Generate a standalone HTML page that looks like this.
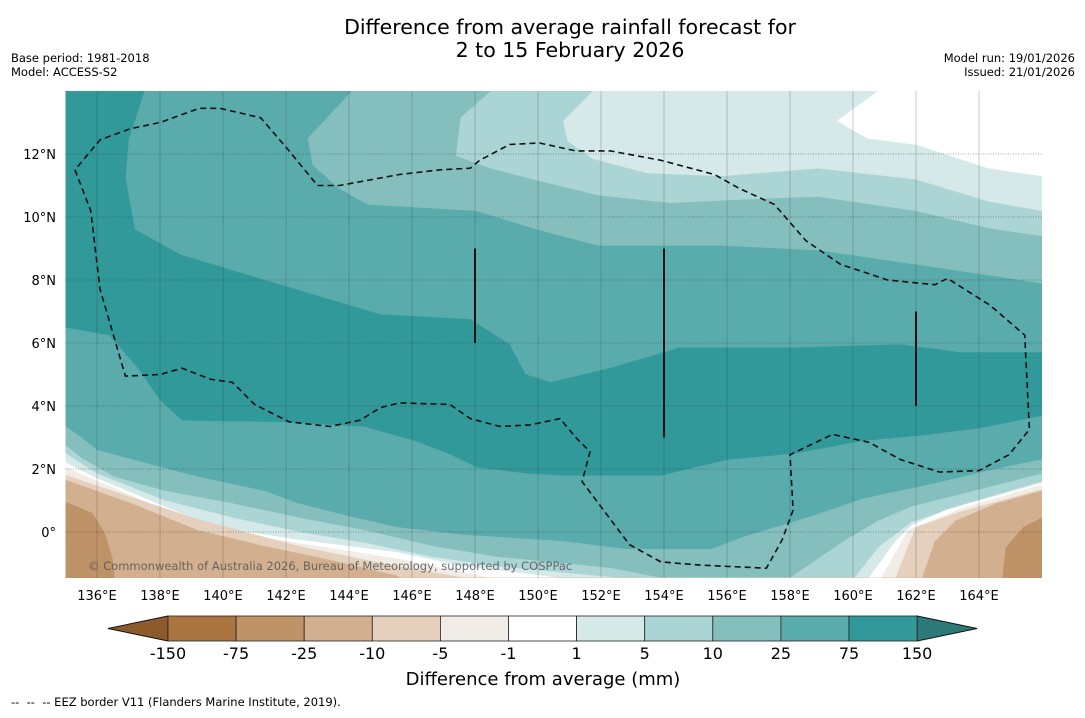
<!DOCTYPE html>
<html><head><meta charset="utf-8"><style>
body{margin:0;background:#fff;font-family:"Liberation Sans","DejaVu Sans",sans-serif}
svg text{font-family:"DejaVu Sans","Liberation Sans",sans-serif}
</style></head><body>
<svg id="s" width="1085" height="713" viewBox="0 0 1085 713" xmlns="http://www.w3.org/2000/svg">
<text x="570" y="34" font-size="20.5" text-anchor="middle">Difference from average rainfall forecast for</text>
<text x="570" y="57" font-size="20.5" text-anchor="middle">2 to 15 February 2026</text>
<text x="11" y="62" font-size="11.5">Base period: 1981-2018</text>
<text x="11" y="76" font-size="11.5">Model: ACCESS-S2</text>
<text x="1075" y="62" font-size="11.5" text-anchor="end">Model run: 19/01/2026</text>
<text x="1075" y="76" font-size="11.5" text-anchor="end">Issued: 21/01/2026</text>
<defs><clipPath id="mc"><rect x="65.5" y="91" width="976.5" height="487"/></clipPath></defs>
<g id="map" clip-path="url(#mc)"></g>
<g id="ov"></g>
<g id="cb"></g>
<text x="543" y="685" font-size="18" text-anchor="middle">Difference from average (mm)</text>
<text x="11" y="706" font-size="11.5" xml:space="preserve">--  --  -- EEZ border V11 (Flanders Marine Institute, 2019).</text>
</svg>
<script>
const lonTicks=[136,138,140,142,144,146,148,150,152,154,156,158,160,162,164];
const latTicks=[0,2,4,6,8,10,12];
const cbLabels=["-150","-75","-25","-10","-5","-1","1","5","10","25","75","150"];
const cbColors=["#ab7541","#bf9368","#d2b08f","#e4d0bd","#f2ece7","#ffffff","#d4e9e8","#abd5d4","#84bfbe","#5aabab","#31999a"];
const bandDark=[[135,14],[137.5,14],[137,12.45],[136.9,11.2],[137.2,9.6],[138.65,8.8],[141.8,7.85],[145,6.9],[147.85,6.75],[149.1,5.95],[149.6,5],[150.4,4.75],[152.3,5.2],[154.5,5.85],[158.3,5.85],[161.5,5.95],[163.4,5.7],[166,5.7],[166,3.7],[164,3.3],[162.4,3.1],[160.3,2.9],[158.15,2.5],[156,2.3],[153.9,1.8],[150.85,1.8],[149.8,1.85],[148.1,2.05],[147.15,2.5],[146.1,2.9],[144.5,3.35],[141.9,3.5],[138.7,3.55],[138,4.2],[137.35,5.15],[136.4,6.25],[135,6.5]];
const top10=[[144.1,14],[142.7,12.5],[142.85,11.65],[143.7,10.9],[144.6,10.4],[148.05,10.2],[150,9.6],[151.9,9.1],[155.8,9.1],[158.9,8.95],[162,8.5],[166,7.9]];
const top5=[[148.5,14],[147.55,13.15],[147.4,11.95],[148.5,11.55],[150.05,11.15],[151.9,10.7],[154.2,10.45],[157.35,10.6],[158.9,10.65],[162,10.2],[164.3,9.65],[166,9.4]];
const top1=[[151.75,14],[150.8,13.05],[150.95,12.4],[151.75,11.85],[153.45,11.4],[155.8,11.3],[158.9,11.55],[162,11.2],[164.3,10.5],[166,10.2]];
const topW=[[160.8,14],[159.5,13.05],[160.45,12.5],[162,12.3],[164.3,11.55],[166,11.3]];
const bot10=[[135,3.35],[135.5,3],[136,2.6],[137.1,2.3],[139.2,1.75],[141.3,1.3],[142.4,0.9],[144,0.5],[145.5,0.15],[147.7,-0.1],[150.85,-0.3],[152.8,-0.55],[155.5,-0.55],[156.55,-0.15],[158.7,0.5],[160.3,1.05],[162.4,1.5],[164.55,2],[166,2.3]];
const bot5=[[135,2.75],[135.5,2.35],[136.55,1.75],[138.15,1.3],[140.3,0.9],[142.4,0.45],[144.5,0.05],[146.65,-0.45],[148.75,-0.8],[150.85,-1],[152.3,-1.15],[153.9,-1.46],[158,-1.46],[159.7,-0.3],[160.8,0.35],[161.85,0.8],[163.45,1.2],[166,1.85]];
const bot1=[[135,2.5],[136,1.85],[138.15,1],[140.3,0.45],[142.4,0],[144.5,-0.35],[146.65,-0.8],[148.75,-1.1],[150.85,-1.3],[152.6,-1.46],[160.05,-1.46],[160.8,-0.5],[161.85,0.3],[163.45,0.85],[166,1.6]];
const botW=[[135,2.2],[136,1.7],[138.15,0.8],[139.75,0.15],[142.4,-0.25],[145.55,-0.65],[147.7,-1.1],[149.8,-1.35],[150.7,-1.46],[160.5,-1.46],[161.35,-0.3],[161.85,0.2],[162.95,0.7],[166,1.55]];
const botM1=[[135,2.05],[138.15,0.7],[139.75,0.05],[145.55,-0.85],[147.7,-1.3],[148.5,-1.46],[160.9,-1.46],[161.75,0.05],[163.45,0.75],[166,1.5]];
const botM5=[[135,1.8],[137.1,1.1],[139.2,0.4],[142.4,-0.45],[145.55,-1.1],[147.7,-1.46],[161.35,-1.46],[162,0.15],[163.45,0.65],[166,1.35]];
const botM10=[[135,1.65],[137.1,0.9],[139.2,0.05],[141.3,-0.45],[143.45,-0.9],[145.55,-1.4],[145.6,-1.46],[162.2,-1.46],[162.6,-0.3],[163.25,0.35],[164.55,0.9],[166,1.3]];
const blobL=[[135,0.95],[135.85,0.6],[136.25,-0.05],[136.5,-0.9],[136.55,-1.46]];
const blobR=[[164.75,-1.46],[164.85,-0.5],[165.4,0.15],[166,0.45]];
const eez=[[135.3,11.5],[135.8,10.2],[136.1,7.7],[136.9,4.95],[138,5],[138.7,5.2],[139.6,4.85],[140.3,4.75],[141,4.05],[142.1,3.5],[143.4,3.35],[144.35,3.55],[145,3.95],[145.6,4.1],[147.2,4.05],[147.85,3.6],[148.8,3.35],[149.75,3.4],[150.7,3.6],[151.2,3],[151.65,2.55],[151.4,1.6],[152.3,0.4],[152.9,-0.4],[153.9,-0.95],[155.15,-1.05],[157.25,-1.15],[157.75,-0.25],[158.1,0.7],[158,2.45],[158.3,2.6],[159.35,3.1],[160.5,2.85],[161.5,2.3],[162.75,1.9],[164,1.95],[164.95,2.45],[165.6,3.25],[165.45,6.25],[164.35,7.2],[163,8.05],[162.6,7.85],[161.1,8],[159.6,8.5],[158.5,9.25],[157.5,10.4],[156.4,10.9],[155.6,11.35],[153.9,11.8],[152.3,12.1],[151.2,12.1],[150.05,12.35],[149.1,12.3],[148.15,11.8],[147.85,11.55],[146.9,11.5],[145.6,11.35],[143.7,11],[143,11],[142.1,12.1],[141.2,13.15],[139.9,13.45],[139.25,13.45],[138,13],[137.05,12.8],[136.1,12.45],[135.3,11.5]];
const solidLines=[[148,9,6],[154,9,3],[162,7,4]];
const LON0=135,LAT0=14,K=31.5,BOT=-1.46;
const X=l=>65.5+(l-LON0)*K, Y=a=>91+(LAT0-a)*K;
const NS="http://www.w3.org/2000/svg";
const map=document.getElementById('map'),ov=document.getElementById('ov'),cb=document.getElementById('cb');
function mk(t,a,p){const e=document.createElementNS(NS,t);for(const k in a)e.setAttribute(k,a[k]);p.appendChild(e);return e;}
function ptsStr(arr){return arr.map(p=>X(p[0]).toFixed(1)+','+Y(p[1]).toFixed(1)).join(' ');}
function poly(arr,fill,name){const e=mk('polygon',{points:ptsStr(arr),fill:fill,stroke:fill,'stroke-width':0.5},map);

}
const bg=mk('rect',{x:60,y:85,width:990,height:500,fill:cbColors[9]},map);


poly(bandDark,cbColors[10],'band-75-150');
function topPoly(b){return b.concat([[166,LAT0+1]]).concat([[b[0][0],LAT0+1]]);}
poly(topPoly(top10),cbColors[8],'band-10-25-north');
poly(topPoly(top5),cbColors[7],'band-5-10-north');
poly(topPoly(top1),cbColors[6],'band-1-5-north');
poly(topPoly(topW),cbColors[5],'band-neutral-north');
function botPoly(b){return [[LON0-1,BOT-1],[LON0-1,b[0][1]]].concat(b).concat([[167,b[b.length-1][1]],[167,BOT-1]]);}
poly(botPoly(bot10),cbColors[8],'band-10-25-south');
poly(botPoly(bot5),cbColors[7],'band-5-10-south');
poly(botPoly(bot1),cbColors[6],'band-1-5-south');
poly(botPoly(botW),cbColors[5],'band-neutral-south');
poly(botPoly(botM1),cbColors[4],'band-minus1-5');
poly(botPoly(botM5),cbColors[3],'band-minus5-10');
poly(botPoly(botM10),cbColors[2],'band-minus10-25');
poly([[LON0-1,BOT-1],[LON0-1,blobL[0][1]]].concat(blobL).concat([[blobL[blobL.length-1][0],BOT-1]]),cbColors[1],'band-minus25-75-west');
poly([[blobR[0][0],BOT-1]].concat(blobR).concat([[167,blobR[blobR.length-1][1]],[167,BOT-1]]),cbColors[1],'band-minus25-75-east');
lonTicks.forEach(l=>{const g=mk('line',{x1:X(l),x2:X(l),y1:91,y2:578,stroke:'#333','stroke-opacity':0.35,'stroke-width':0.7},ov);


const t=mk('text',{x:X(l),y:600,'font-size':13,'text-anchor':'middle'},ov);t.textContent=l+'°E';

});
latTicks.forEach(a=>{const g=mk('line',{x1:65.5,x2:1042,y1:Y(a),y2:Y(a),stroke:'#333','stroke-opacity':0.6,'stroke-width':0.8,'stroke-dasharray':'1,1.5'},ov);


const t=mk('text',{x:56,y:Y(a)+5,'font-size':13,'text-anchor':'end'},ov);t.textContent=a===0?'0°':a+'°N';

});
const e=mk('polyline',{points:ptsStr(eez),fill:'none',stroke:'#111','stroke-width':1.6,'stroke-dasharray':'6,4'},ov);


solidLines.forEach(s=>{const l=mk('line',{x1:X(s[0]),x2:X(s[0]),y1:Y(s[1]),y2:Y(s[2]),stroke:'#111','stroke-width':2},ov);

});
const c=mk('text',{x:88,y:570,'font-size':11.5,fill:'#555','fill-opacity':0.85},ov);c.textContent='© Commonwealth of Australia 2026, Bureau of Meteorology, supported by COSPPac';


const cx0=168,cw=68.1,cy=616,ch=25;
const tl=mk('polygon',{points:`108,${cy+ch/2} ${cx0},${cy} ${cx0},${cy+ch}`,fill:'#8d5a2b',stroke:'#111','stroke-width':1},cb);


const xe=cx0+cw*cbColors.length;
const tr=mk('polygon',{points:`${xe},${cy} ${xe+60},${cy+ch/2} ${xe},${cy+ch}`,fill:'#2b7a79',stroke:'#111','stroke-width':1},cb);


cbColors.forEach((col,i)=>{const r=mk('rect',{x:cx0+cw*i,y:cy,width:cw,height:ch,fill:col,stroke:'#222','stroke-width':0.8},cb);

});
cbLabels.forEach((lab,i)=>{const t=mk('text',{x:cx0+cw*i,y:659,'font-size':16,'text-anchor':'middle'},cb);t.textContent=lab;

});
</script>
</body></html>
